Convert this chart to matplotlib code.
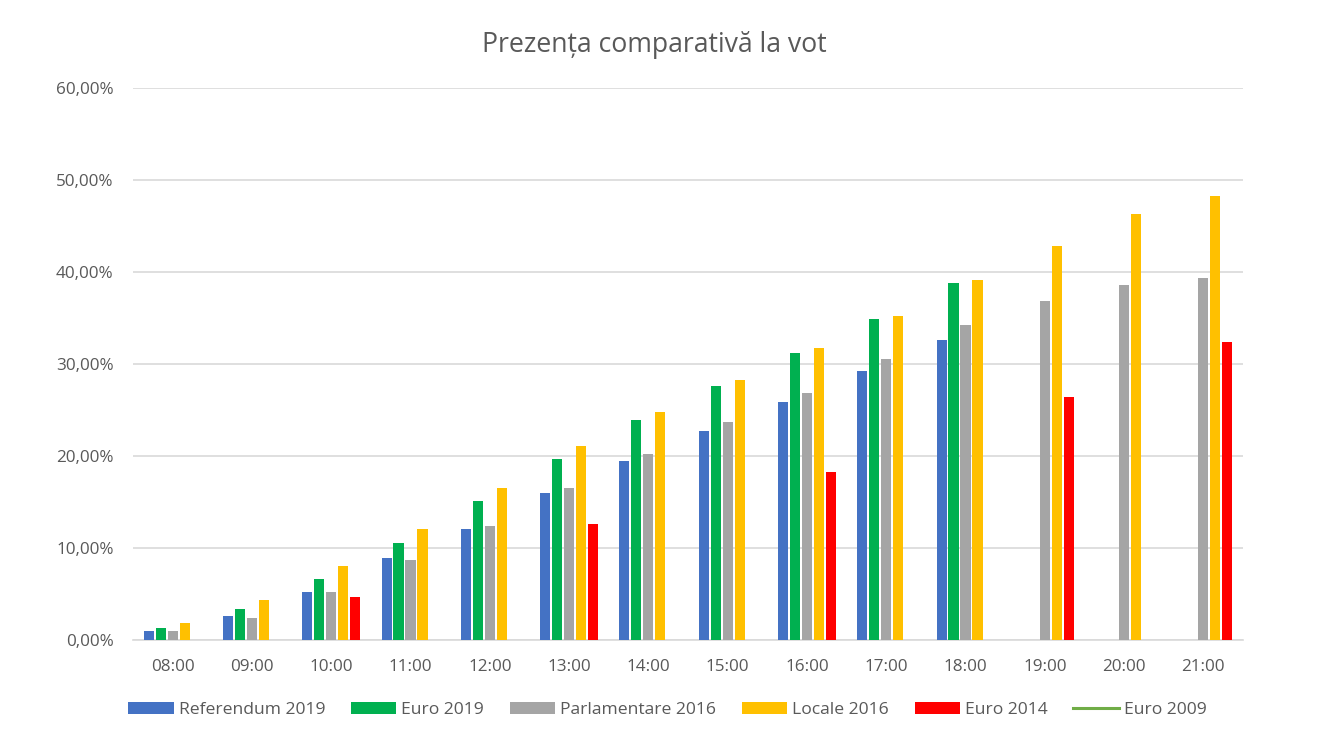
import numpy as np
import matplotlib
matplotlib.use("Agg")
import matplotlib.pyplot as plt
from matplotlib.patches import Patch
from matplotlib.lines import Line2D
from matplotlib.ticker import FuncFormatter, MultipleLocator

plt.rcParams['font.family'] = ['Open Sans', 'DejaVu Sans']

hours = ["08:00", "09:00", "10:00", "11:00", "12:00", "13:00", "14:00",
         "15:00", "16:00", "17:00", "18:00", "19:00", "20:00", "21:00"]
nan = np.nan
referendum_2019 = [1.0, 2.6, 5.2, 8.9, 12.1, 16.0, 19.5, 22.7, 25.9, 29.2, 32.6, nan, nan, nan]
euro_2019 = [1.3, 3.4, 6.6, 10.5, 15.1, 19.7, 23.9, 27.6, 31.2, 34.9, 38.8, nan, nan, nan]
parlamentare_2016 = [1.0, 2.4, 5.2, 8.7, 12.4, 16.5, 20.2, 23.7, 26.8, 30.5, 34.2, 36.8, 38.6, 39.3]
locale_2016 = [1.8, 4.3, 8.0, 12.1, 16.5, 21.1, 24.8, 28.3, 31.7, 35.2, 39.1, 42.8, 46.3, 48.3]
euro_2014 = [nan, nan, 4.7, nan, nan, 12.6, nan, nan, 18.3, nan, nan, 26.4, nan, 32.4]
euro_2009 = [nan] * 14

series_names = ["Referendum 2019", "Euro 2019", "Parlamentare 2016", "Locale 2016", "Euro 2014"]
series_vals = [referendum_2019, euro_2019, parlamentare_2016, locale_2016, euro_2014]
colors = ["#4472C4", "#00B050", "#A5A5A5", "#FFC000", "#FF0000"]
line_name = "Euro 2009"
line_color = "#70AD47"

fig = plt.figure(figsize=(13.2, 7.43), dpi=100)
ax = fig.add_axes([133/1320, 1-640/743, (1243-133)/1320, (640-88)/743])

x = np.arange(len(hours))
slot = 0.151
bw = 0.127
n = len(series_vals)
for i, (vals, c) in enumerate(zip(series_vals, colors)):
    off = (i - (n - 1) / 2) * slot
    ax.bar(x + off, vals, width=bw, color=c, zorder=3)
ax.plot(x, euro_2009, color=line_color, lw=2.2, zorder=4)

ax.set_xlim(-0.5, len(hours) - 0.5)
ax.set_ylim(0, 60)
ax.yaxis.set_major_locator(MultipleLocator(10))
ax.yaxis.set_major_formatter(FuncFormatter(lambda v, p: f"{v:.2f}%".replace('.', ',')))
ax.set_xticks(x)
ax.set_xticklabels(hours)
ax.grid(axis='y', color='#D9D9D9', lw=1.2, zorder=0)
for s in ['top', 'right', 'left']:
    ax.spines[s].set_visible(False)
ax.spines['bottom'].set_color('#D9D9D9')
ax.spines['bottom'].set_linewidth(1.2)
ax.tick_params(axis='both', length=0, labelsize=12.3, colors='#595959', pad=14)

fig.text(0.496, 1-45/743, "Prezența comparativă la vot", ha='center', va='center',
         fontsize=19.2, color='#595959')

handles = [Patch(facecolor=c, edgecolor='none') for c in colors]
handles.append(Line2D([0], [0], color=line_color, lw=2.2))
labels = series_names + [line_name]
fig.legend(handles, labels, ncol=6, loc='center left', bbox_to_anchor=(128/1320, 1-710/743),
           frameon=False, fontsize=12.6, handlelength=2.6, handleheight=0.7, handletextpad=0.3,
           columnspacing=1.45, borderpad=0, borderaxespad=0, labelcolor='#595959')

fig.savefig("out.png", dpi=100)
